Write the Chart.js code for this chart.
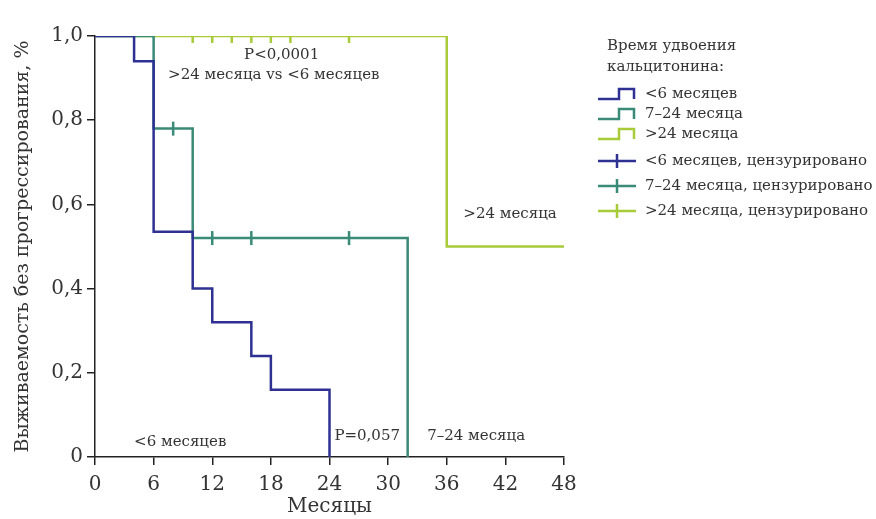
<!DOCTYPE html>
<html lang="ru">
<head>
    <meta charset="UTF-8">
    <title>Выживаемость без прогрессирования</title>
    <script src="https://cdn.jsdelivr.net/npm/chart.js"></script>
    <style>
        html, body { margin: 0; padding: 0; background: #fff; overflow: hidden; }
        .chart-box { position: relative; width: 876px; height: 519px; }
    </style>
</head>
<body>
    <div class="chart-box">
        <canvas id="kmChart" width="876" height="519"></canvas>
    </div>

    <script>
        // Kaplan-Meier data (months, survival share)
        const xTicks = [0, 6, 12, 18, 24, 30, 36, 42, 48];
        const yTicks = [0, 0.2, 0.4, 0.6, 0.8, 1.0];

        const lt6Time = [0, 4, 6, 10, 12, 16, 18, 24];
        const lt6Surv = [1, 0.94, 0.535, 0.40, 0.32, 0.24, 0.16, 0];

        const mid24Time = [0, 6, 10, 32];
        const mid24Surv = [1, 0.78, 0.52, 0];

        const gt24Time = [0, 36, 48];
        const gt24Surv = [1, 0.5, 0.5];

        // censored observations
        const lt6CensTime = [];
        const lt6CensSurv = [];
        const mid24CensTime = [8, 12, 16, 26];
        const mid24CensSurv = [0.78, 0.52, 0.52, 0.52];
        const gt24CensTime = [10, 12, 14, 16, 18, 20, 26];
        const gt24CensSurv = [1, 1, 1, 1, 1, 1, 1];

        const seriesNames = ['<6 месяцев', '7–24 месяца', '>24 месяца'];
        const colors = ['#2e3192', '#3a8a78', '#a8cb3a'];

        const FONT = '"DejaVu Serif", serif';

        function pts(xs, ys) {
            return xs.map((x, i) => ({ x: x, y: ys[i] }));
        }

        const notes = [
            { text: 'P<0,0001', x: 19.1, y: 0.955, align: 'center' },
            { text: '>24 месяца vs <6 месяцев', x: 18.3, y: 0.907, align: 'center' },
            { text: '<6 месяцев', x: 4.0, y: 0.035, align: 'left' },
            { text: 'P=0,057', x: 24.5, y: 0.05, align: 'left' },
            { text: '7–24 месяца', x: 34.0, y: 0.05, align: 'left' },
            { text: '>24 месяца', x: 37.7, y: 0.577, align: 'left' }
        ];

        // annotations + legend drawn on the canvas
        const extras = {
            id: 'extras',
            afterDraw(chart) {
                const ctx = chart.ctx;
                const xs = chart.scales.x, ys = chart.scales.y;
                ctx.save();
                ctx.fillStyle = '#333';
                ctx.font = '15px ' + FONT;
                ctx.textBaseline = 'middle';
                notes.forEach(n => {
                    ctx.textAlign = n.align;
                    ctx.fillText(n.text, xs.getPixelForValue(n.x), ys.getPixelForValue(n.y));
                });

                // legend
                ctx.textAlign = 'left';
                ctx.fillStyle = '#333';
                ctx.font = '15px ' + FONT;
                ctx.fillText('Время удвоения', 607, 46);
                ctx.fillText('кальцитонина:', 607, 67);

                ctx.lineWidth = 2.5;
                colors.forEach((c, i) => {
                    const y = 99 + i * 20;
                    ctx.strokeStyle = c;
                    ctx.beginPath();
                    ctx.moveTo(598, y);
                    ctx.lineTo(619, y);
                    ctx.lineTo(619, y - 10);
                    ctx.lineTo(634, y - 10);
                    ctx.lineTo(634, y);
                    ctx.stroke();
                    ctx.fillStyle = '#333';
                    ctx.fillText(seriesNames[i], 645, y - 5);
                });
                colors.forEach((c, i) => {
                    const y = 161 + i * 25;
                    ctx.strokeStyle = c;
                    ctx.beginPath();
                    ctx.moveTo(598, y);
                    ctx.lineTo(636, y);
                    ctx.moveTo(617, y - 7);
                    ctx.lineTo(617, y + 7);
                    ctx.stroke();
                    ctx.fillStyle = '#333';
                    ctx.fillText(seriesNames[i] + ', цензурировано', 645, y);
                });
                ctx.restore();
            }
        };

        const curve = (name, data, color) => ({
            label: name,
            data: data,
            type: 'line',
            stepped: 'before',
            borderColor: color,
            borderWidth: 2.5,
            pointRadius: 0,
            fill: false,
            order: 2
        });

        const cens = (name, data, color) => ({
            label: name,
            data: data,
            type: 'scatter',
            pointStyle: 'line',
            rotation: 90,
            pointRadius: 7,
            borderColor: color,
            backgroundColor: color,
            pointBorderWidth: 2.5,
            order: 1
        });

        new Chart(document.getElementById('kmChart').getContext('2d'), {
            type: 'line',
            data: {
                datasets: [
                    curve(seriesNames[0], pts(lt6Time, lt6Surv), colors[0]),
                    curve(seriesNames[1], pts(mid24Time, mid24Surv), colors[1]),
                    curve(seriesNames[2], pts(gt24Time, gt24Surv), colors[2]),
                    cens(seriesNames[0] + ', цензурировано', pts(lt6CensTime, lt6CensSurv), colors[0]),
                    cens(seriesNames[1] + ', цензурировано', pts(mid24CensTime, mid24CensSurv), colors[1]),
                    cens(seriesNames[2] + ', цензурировано', pts(gt24CensTime, gt24CensSurv), colors[2])
                ]
            },
            options: {
                responsive: false,
                animation: false,
                devicePixelRatio: 1,
                layout: { padding: { left: 12, right: 312, top: 36, bottom: 0 } },
                plugins: { legend: { display: false }, tooltip: { enabled: false } },
                scales: {
                    x: {
                        type: 'linear',
                        min: 0, max: 48,
                        afterBuildTicks: s => { s.ticks = xTicks.map(v => ({ value: v })); },
                        afterFit: s => { s.height = 62; },
                        grid: { drawOnChartArea: false, drawTicks: true, tickLength: 8, color: '#222', lineWidth: 1.5 },
                        border: { display: true, color: '#222', width: 1.5 },
                        ticks: { color: '#333', font: { family: FONT, size: 20 }, padding: 8, maxRotation: 0 },
                        title: { display: true, text: 'Месяцы', color: '#333', font: { family: FONT, size: 20 }, padding: { top: 0, bottom: 0 } }
                    },
                    y: {
                        type: 'linear',
                        min: 0, max: 1,
                        afterBuildTicks: s => { s.ticks = yTicks.map(v => ({ value: v })); },
                        afterFit: s => { s.width = 83; },
                        grid: { drawOnChartArea: false, drawTicks: true, tickLength: 8, color: '#222', lineWidth: 1.5 },
                        border: { display: true, color: '#222', width: 1.5 },
                        ticks: {
                            color: '#333', font: { family: FONT, size: 20 }, padding: 4,
                            callback: v => v === 0 ? '0' : v.toFixed(1).replace('.', ',')
                        },
                        title: { display: true, text: 'Выживаемость без прогрессирования, %', color: '#333', font: { family: FONT, size: 19 }, padding: { top: 0, bottom: 4 } }
                    }
                }
            },
            plugins: [extras]
        });
    </script>
</body>
</html>
